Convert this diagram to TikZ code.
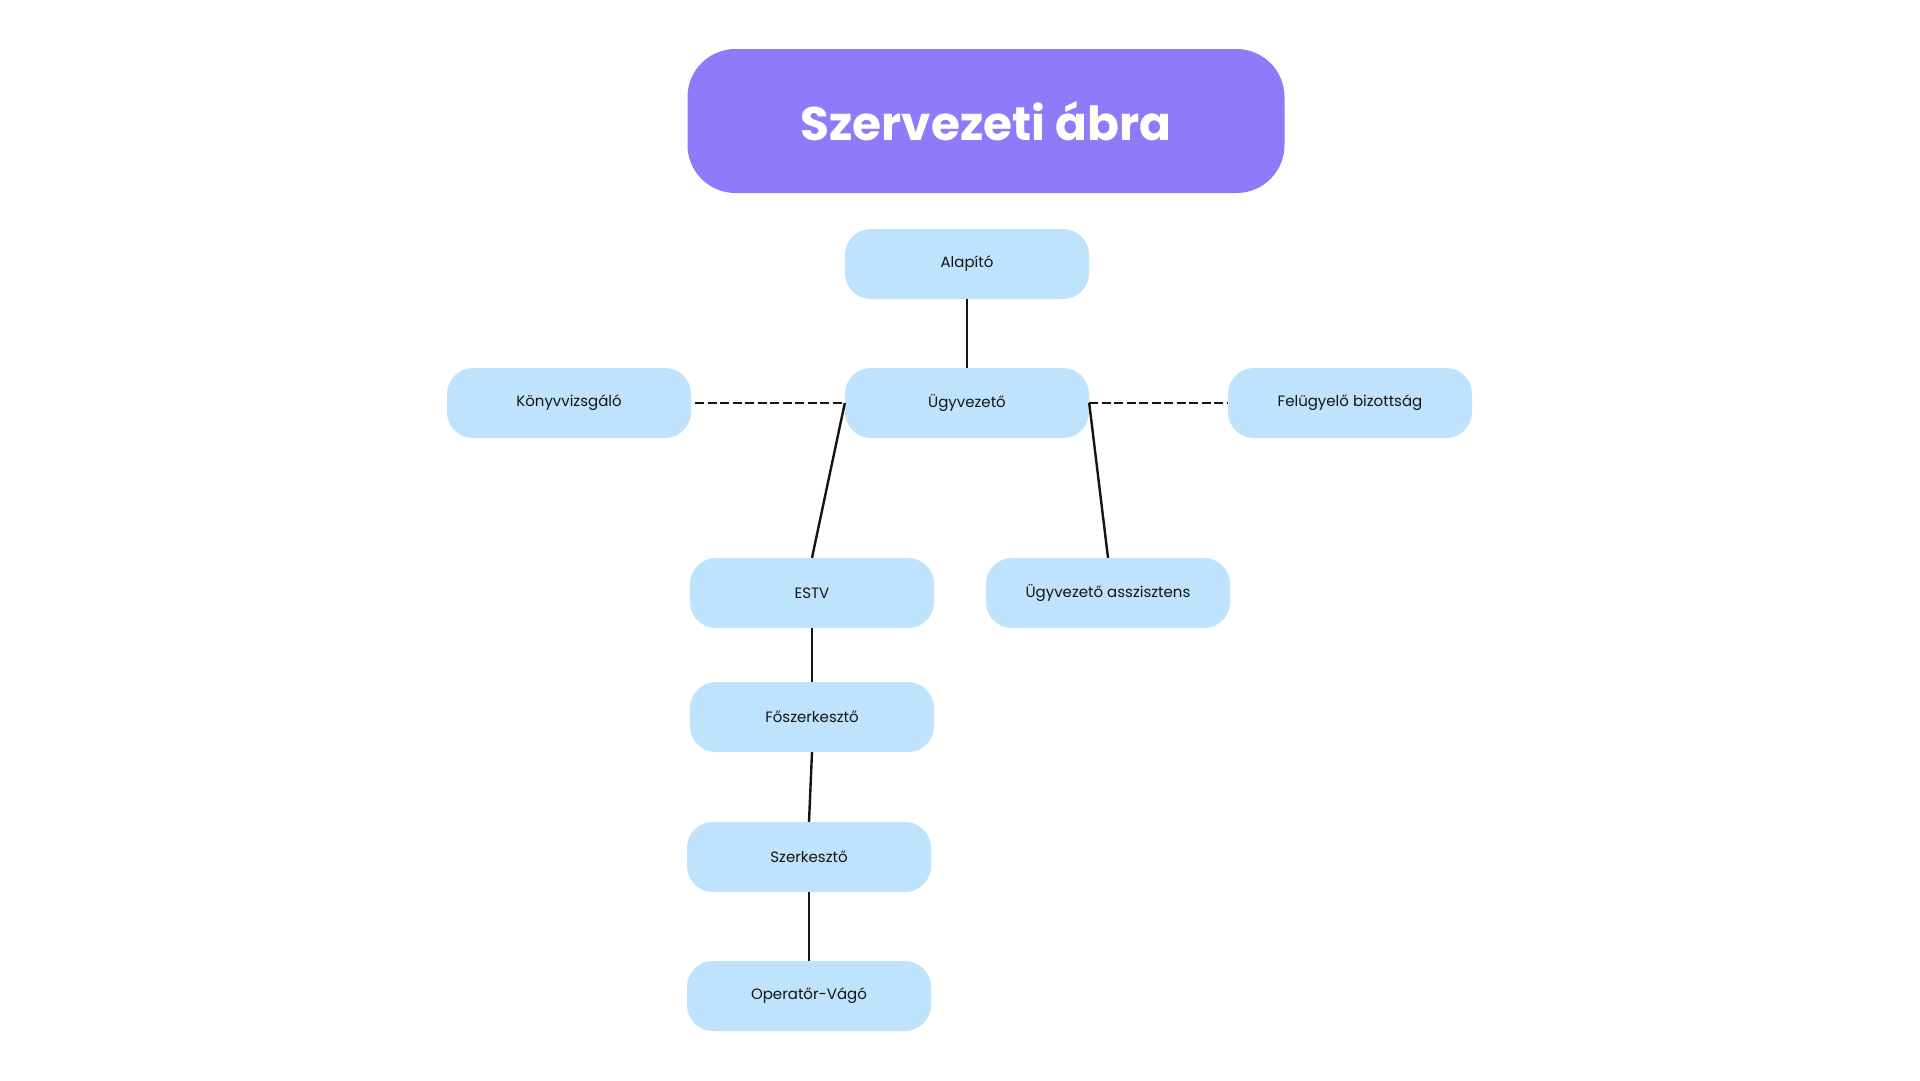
\documentclass[tikz,border=0pt]{standalone}
\usepackage{fontspec}
\setmainfont{Poppins}
\usepackage{tikz}
\usetikzlibrary{positioning}
\definecolor{titlepurple}{RGB}{143,123,249}
\definecolor{boxblue}{RGB}{191,227,253}
\definecolor{inkdark}{RGB}{20,20,20}

\begin{document}
\begin{tikzpicture}[x=1pt,y=-1pt,
  titlebox/.style={fill=titlepurple,rounded corners=48pt,minimum width=597pt,minimum height=144pt,inner sep=0pt,text=white,font=\fontsize{47}{56}\selectfont\bfseries},
  role/.style={fill=boxblue,rounded corners=26pt,minimum width=244pt,minimum height=70pt,inner sep=0pt,text=inkdark,font=\fontsize{15}{18}\selectfont},
  link/.style={draw=inkdark,line width=2.4pt},
  dashlink/.style={link,dash pattern=on 9pt off 3.5pt}]
\useasboundingbox[fill=white] (0,0) rectangle (1920,1080);
\node[titlebox] (title) at (986,121) {Szervezeti ábra};
% vezetés
\node[role] (alapito) at (967,264) {Alapító};
\node[role] (ugyv) at (967,403) {Ügyvezető};
\node[role] (konyv) at (569,403) {Könyvvizsgáló};
\node[role] (felugy) at (1350,403) {Felügyelő bizottság};
\node[role] (estv) at (812,593) {ESTV};
\node[role] (asszt) at (1108,593) {Ügyvezető asszisztens};
% szerkesztőség
\node[role] (foszerk) at (812,717) {Főszerkesztő};
\node[role] (szerk) at (809,857) {Szerkesztő};
\node[role] (operator) at (809,996) {Operatőr-Vágó};
\draw[link] (alapito.south) -- (ugyv.north);
\draw[dashlink] ([xshift=4pt]konyv.east) -- (ugyv.west);
\draw[dashlink] (ugyv.east) -- (felugy.west);
\draw[link] (ugyv.west) -- (estv.north);
\draw[link] (ugyv.east) -- (asszt.north);
\draw[link] (estv.south) -- (foszerk.north);
\draw[link] (foszerk.south) -- (szerk.north);
\draw[link] (szerk.south) -- (operator.north);
\end{tikzpicture}
\end{document}
